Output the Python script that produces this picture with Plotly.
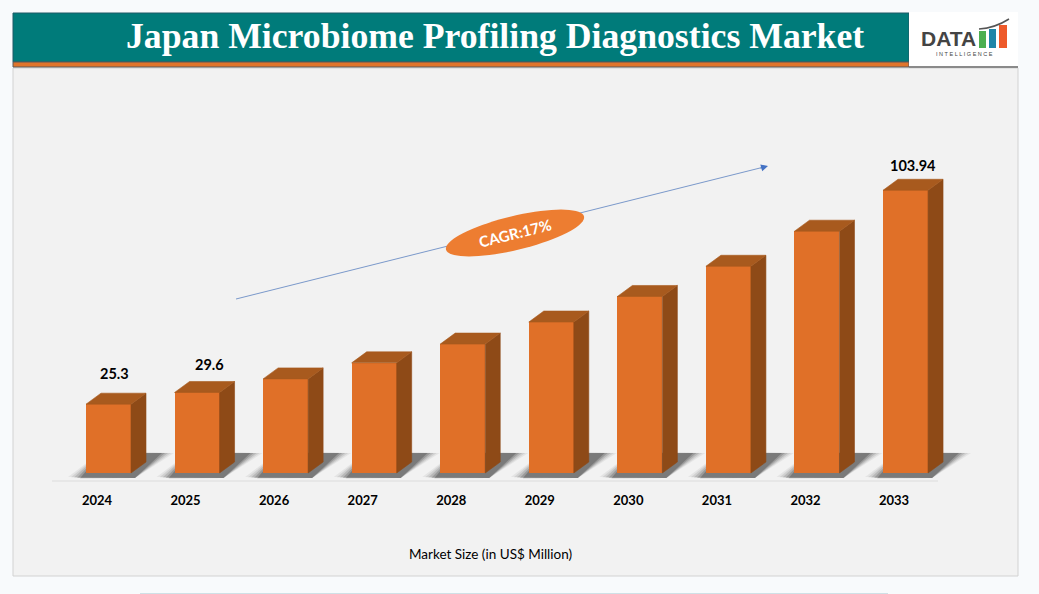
import numpy as np
import plotly.graph_objects as go

W, H = 1039, 594

# chart data
years = [2024, 2025, 2026, 2027, 2028, 2029, 2030, 2031, 2032, 2033]
market_size = [25.3, 29.6, 34.6, 40.5, 47.4, 55.5, 64.9, 76.0, 88.9, 103.94]
labelled_years = [2024, 2025, 2033]
label_lift = [31, 28, 25]  # px above the front face
label_nudge = [5.5, 12, 7.5]  # px right of the front face centre

title_text = 'Japan Microbiome Profiling Diagnostics Market'
axis_title = 'Market Size (in US$ Million)'
cagr_text = 'CAGR:17%'

# scale of the plot in px
PX_PER_YEAR = 88.56
PX_PER_UNIT = 2.72
TICK_X0 = 97      # px of the 2024 tick
BASE_Y = 473      # px of value 0
AXIS_Y = 481
PANEL = (13, 68, 1018, 576)

BAR_W = 45 / PX_PER_YEAR
BAR_OFFSET = -11 / PX_PER_YEAR
DEPTH_X = 15 / PX_PER_YEAR
DEPTH_Y = 11 / PX_PER_UNIT

FRONT = '#E07028'
TOP = '#A85A1E'
SIDE = '#8E4A17'
FONT = 'Lato, "Open Sans", sans-serif'


def rect(x0, y0, x1, y1, color, line=None):
    return dict(type='rect', xref='paper', yref='paper', layer='below',
                x0=x0 / W, x1=x1 / W, y0=1 - y1 / H, y1=1 - y0 / H,
                fillcolor=color, line=dict(color=line or color, width=1 if line else 0))


def label(x, y, text, size, color, family=FONT, angle=0):
    # anchors must be explicit, the auto ones shift the text near the page edges
    return dict(x=x / W, y=1 - y / H, xref='paper', yref='paper', text=text, showarrow=False,
                xanchor='center', yanchor='middle', textangle=angle,
                font=dict(family=family, size=size, color=color))


def polygons(face):
    xs, ys = [], []
    for year, value in zip(years, market_size):
        left = year + BAR_OFFSET
        right = left + BAR_W
        if face == 'top':
            px_ = [left, right, right + DEPTH_X, left + DEPTH_X, left]
            py_ = [value, value, value + DEPTH_Y, value + DEPTH_Y, value]
        else:
            px_ = [right, right + DEPTH_X, right + DEPTH_X, right, right]
            py_ = [0, DEPTH_Y, value + DEPTH_Y, value, 0]
        xs += px_ + [None]
        ys += py_ + [None]
    return xs, ys


def shadow_shapes():
    out = []
    # stacked translucent shapes stand in for the blurred floor shadow
    for grow, alpha in [(10, 0.07), (7, 0.10), (4, 0.15), (1, 0.22), (-2, 0.30)]:
        for year in years:
            left = year + BAR_OFFSET
            points = [(-8 - grow, 5 - grow * 0.1), (49, 5), (78 + grow, -20), (15, -20 - grow * 0.1)]
            path = ''
            for i, (dx, dy) in enumerate(points):
                path += ('M' if i == 0 else 'L') + f'{left + dx / PX_PER_YEAR},{-dy / PX_PER_UNIT} '
            out.append(dict(type='path', xref='x', yref='y', layer='below', path=path + 'Z',
                            fillcolor=f'rgba(50,50,50,{alpha})', line=dict(width=0)))
    return out


def ellipse_path(cx, cy, a, b, angle_deg):
    t = np.linspace(0, 2 * np.pi, 73)[:-1]
    ang = np.radians(angle_deg)
    ex = cx + a * np.cos(t) * np.cos(ang) - b * np.sin(t) * np.sin(ang)
    ey = cy + a * np.cos(t) * np.sin(ang) + b * np.sin(t) * np.cos(ang)
    pts = [f'{x / W},{1 - y / H}' for x, y in zip(ex, ey)]
    return 'M' + ' L'.join(pts) + ' Z'


fig = go.Figure()
fig.add_trace(go.Bar(x=years, y=market_size, width=BAR_W, offset=BAR_OFFSET,
                     marker=dict(color=FRONT, line=dict(width=0)), hoverinfo='skip'))
for face, color in [('side', SIDE), ('top', TOP)]:
    xs, ys = polygons(face)
    fig.add_trace(go.Scatter(x=xs, y=ys, mode='lines', fill='toself', fillcolor=color,
                             line=dict(width=0.6, color=color), hoverinfo='skip'))

shapes = [
    rect(*PANEL, '#F2F2F2', '#D2D2D2'),
    rect(13, 13, 909, 62, '#007B7A', '#1F5A66'),
    rect(13, 62, 909, 67, '#E0752B', '#5A5A5A'),
    rect(909, 12, 1018, 67, '#FFFFFF'),
    rect(909, 66, 1018, 68, '#8A8A8A'),
    rect(140, 593, 888, 594, '#CFE0E6'),
    # logo bars
    rect(979, 31, 986, 48, '#4CAF50'),
    rect(989, 29, 996, 48, '#1F86A8'),
    rect(999, 25, 1007, 48, '#EE5A2A'),
    dict(type='path', xref='paper', yref='paper', layer='below',
         path=f'M{979 / W},{1 - 29 / H} Q{995 / W},{1 - 28 / H} {1009 / W},{1 - 19 / H}',
         line=dict(color='#555555', width=1.5)),
]
shapes += shadow_shapes()
shapes += [
    dict(type='line', xref='paper', yref='paper', layer='below',
         x0=52 / W, x1=938 / W, y0=1 - AXIS_Y / H, y1=1 - AXIS_Y / H,
         line=dict(color='#DCDCDC', width=1)),
    # trend arrow, the ellipse sits on top of it
    dict(type='line', xref='paper', yref='paper', layer='above',
         x0=236 / W, y0=1 - 299 / H, x1=764 / W, y1=1 - 167 / H,
         line=dict(color='#5B82C0', width=0.8)),
    dict(type='path', xref='paper', yref='paper', layer='above',
         path=ellipse_path(515, 233, 71, 17, -13.5),
         fillcolor='#ED7D31', line=dict(width=0)),
]

annotations = []
for year, lift, nudge in zip(labelled_years, label_lift, label_nudge):
    value = market_size[years.index(year)]
    annotations.append(dict(x=year + BAR_OFFSET + BAR_W / 2 + nudge / PX_PER_YEAR, y=value, yshift=lift,
                            text=f'<b>{value}</b>', showarrow=False, yanchor='middle',
                            font=dict(family=FONT, size=14.5, color='#000000')))

annotations += [
    label(494.5, 36, f'<b>{title_text}</b>', 35.7, '#FFFFFF', family='"Liberation Serif", serif'),
    dict(x=768 / W, y=1 - 166 / H, xref='paper', yref='paper', ax=-9, ay=2.5, text='', showarrow=True,
         arrowhead=2, arrowsize=1.4, arrowwidth=1, arrowcolor='#4472C4'),
    label(515, 233, f'<b>{cagr_text}</b>', 15, '#FFFFFF', angle=-14),
    label(490, 554, axis_title, 13.5, '#000000'),
    label(948.5, 39, '<b>DATA</b>', 21, '#444444', family='"Liberation Sans", sans-serif'),
    label(964.5, 54, '&nbsp;'.join('INTELLIGENCE'), 5.5, '#444444', family='"Liberation Sans", sans-serif'),
]

x_left = 2024 - TICK_X0 / PX_PER_YEAR
x_right = x_left + W / PX_PER_YEAR
fig.update_layout(
    width=W, height=H, autosize=False, showlegend=False, bargap=0,
    margin=dict(l=0, r=0, t=0, b=0),
    paper_bgcolor='#F8FAFC', plot_bgcolor='rgba(0,0,0,0)',
    shapes=shapes, annotations=annotations,
    xaxis=dict(range=[x_left, x_right], tickmode='array', tickvals=years,
               ticktext=[f'<b>{y}</b>' for y in years], showgrid=False, zeroline=False,
               showline=False, ticks='', ticklabelstandoff=10,
               tickfont=dict(family=FONT, size=13, color='#000000')),
    yaxis=dict(range=[-(AXIS_Y - BASE_Y) / PX_PER_UNIT, (BASE_Y - PANEL[1]) / PX_PER_UNIT],
               domain=[1 - AXIS_Y / H, 1 - PANEL[1] / H], visible=False),
)

fig.write_html('out.html', config=dict(displayModeBar=False),
               post_script="document.body.style.margin='0';document.body.style.overflow='hidden';")
